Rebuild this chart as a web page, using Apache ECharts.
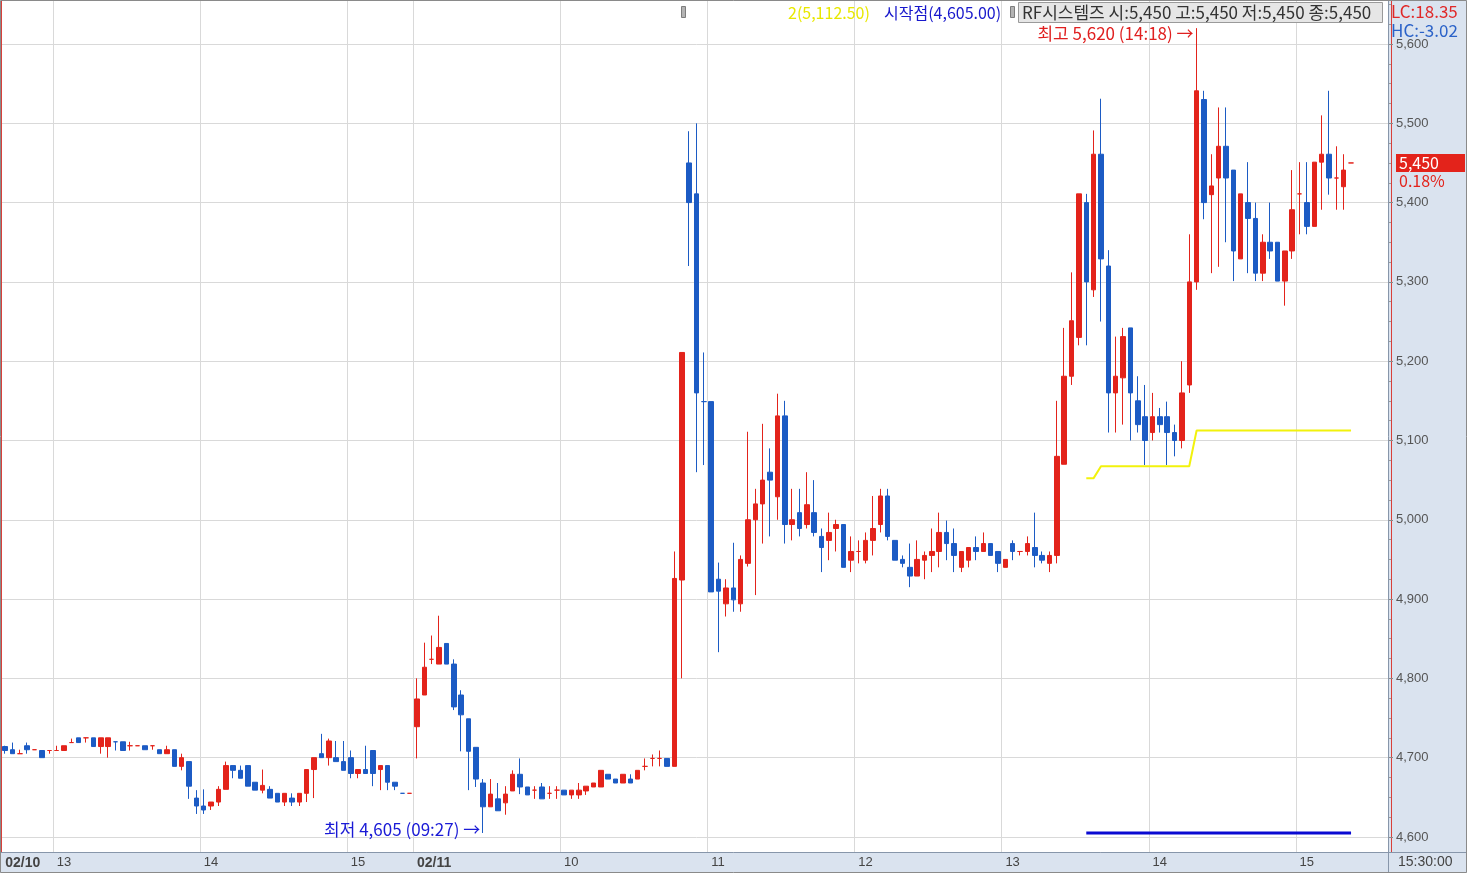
<!DOCTYPE html>
<html><head><meta charset="utf-8">
<script src="https://cdn.jsdelivr.net/npm/echarts@6/dist/echarts.min.js"></script>
<style>html,body{margin:0;padding:0;background:#fff}#c{width:1467px;height:873px}</style>
</head><body><div id="c"></div>
<script>
// ---- time slots (3-minute candles) ----
function slots(day, start, count) {
  const out = []; let [h, m] = start.split(':').map(Number);
  for (let i = 0; i < count; i++) {
    out.push(day + ' ' + String(h).padStart(2, '0') + ':' + String(m).padStart(2, '0'));
    m += 3; if (m >= 60) { m -= 60; h++; }
  }
  return out;
}
const day1Times = slots('02/10', '12:39', 56);
const day2Times = slots('02/11', '09:00', 128);
const padTimes = ['pad1', 'pad2', 'pad3', 'pad4', 'pad5'];
const categories = day1Times.concat(day2Times, padTimes);

// ---- OHLC values: [open, close, low, high] ----
const day1Ohlc = [
[4714,4709,4705,4715],[4710,4705,4705,4719],[4705,4705,4705,4710],[4715,4710,4705,4719],[4710,4710,4710,4710],
[4709,4700,4700,4709],[4709,4709,4705,4709],[4709,4709,4709,4715],[4709,4715,4709,4715],[4719,4719,4719,4724],
[4725,4719,4719,4725],[4725,4725,4719,4725],[4725,4714,4714,4725],[4714,4725,4705,4725],[4714,4725,4700,4725],
[4720,4720,4709,4720],[4720,4709,4709,4720],[4715,4715,4709,4720],[4715,4715,4715,4715],[4715,4710,4710,4715],
[4715,4715,4710,4715],[4710,4705,4705,4710],[4705,4710,4705,4715],[4710,4689,4689,4710],[4689,4700,4684,4705],
[4695,4664,4648,4695],[4649,4639,4629,4659],[4639,4634,4629,4660],[4639,4644,4634,4644],[4644,4660,4639,4664],
[4660,4690,4660,4695],[4690,4684,4674,4690],[4684,4674,4674,4690],[4690,4664,4664,4690],[4669,4659,4659,4669],
[4659,4665,4655,4685],[4660,4649,4649,4664],[4655,4644,4644,4655],[4644,4655,4639,4655],[4649,4644,4639,4655],
[4644,4655,4639,4655],[4655,4685,4644,4685],[4685,4700,4649,4700],[4705,4700,4700,4730],[4700,4721,4690,4724],
[4700,4695,4695,4721],[4695,4684,4684,4721],[4700,4680,4674,4709],[4680,4685,4674,4685],[4685,4680,4680,4715],
[4709,4680,4664,4709],[4685,4690,4659,4690],[4690,4669,4659,4690],[4669,4664,4659,4669],[4655,4655,4655,4655],
[4655,4655,4655,4655]
];
const day2Ohlc = [
[4739,4774,4699,4800],[4779,4814,4779,4845],[4824,4824,4818,4854],[4818,4839,4818,4879],[4844,4818,4818,4844],
[4818,4764,4760,4824],[4779,4754,4708,4785],[4749,4708,4659,4749],[4713,4673,4663,4713],[4668,4638,4605,4673],
[4638,4654,4638,4673],[4648,4633,4633,4668],[4643,4654,4628,4664],[4658,4679,4658,4684],[4679,4663,4654,4699],
[4663,4653,4653,4663],[4659,4659,4648,4664],[4663,4648,4648,4668],[4655,4655,4648,4664],[4659,4659,4648,4664],
[4659,4653,4653,4659],[4653,4659,4648,4659],[4653,4659,4648,4668],[4658,4664,4653,4664],[4663,4668,4663,4668],
[4663,4684,4663,4684],[4679,4673,4673,4679],[4673,4668,4668,4673],[4668,4679,4668,4679],[4673,4668,4668,4679],
[4673,4684,4673,4684],[4689,4689,4684,4699],[4699,4699,4689,4704],[4699,4699,4689,4709],[4699,4689,4689,4699],
[4689,4926,4689,4960],[4924,5211,4800,5211],[5450,5400,5320,5490],[5411,5160,5060,5500],[5149,5149,5069,5211],
[5149,4909,4909,5149],[4925,4910,4833,4946],[4894,4914,4878,4925],[4914,4899,4884,4971],[4894,4950,4884,4955],
[4945,5000,4941,5111],[5000,5020,4905,5039],[5020,5050,4970,5121],[5060,5050,4979,5090],[5029,5131,5000,5159],
[5131,4994,4970,5150],[4994,5000,4974,5039],[5009,4989,4979,5039],[4994,5019,4989,5060],[5009,4984,4979,5050],
[4979,4965,4934,4989],[4974,4984,4949,5009],[4989,4994,4960,5000],[4994,4940,4940,4994],[4949,4960,4934,4979],
[4960,4960,4945,4974],[4949,4974,4945,4984],[4974,4989,4955,5030],[4994,5030,4984,5039],[5030,4979,4974,5039],
[4974,4949,4949,4974],[4950,4945,4940,4955],[4940,4929,4915,4970],[4929,4950,4929,4974],[4949,4955,4925,4960],
[4955,4960,4934,4989],[4960,4984,4940,5009],[4984,4970,4949,4999],[4970,4955,4934,4989],[4940,4960,4934,4960],
[4949,4965,4940,4965],[4965,4960,4949,4979],[4960,4970,4960,4984],[4970,4955,4955,4970],[4960,4945,4934,4960],
[4940,4950,4940,4950],[4970,4960,4949,4974],[4960,4960,4955,4960],[4960,4970,4955,4979],[4965,4955,4940,5009],
[4955,4949,4945,4960],[4945,4955,4934,4960],[4955,5080,4945,5150],[5070,5181,5070,5242],[5181,5251,5170,5312],
[5230,5411,5220,5411],[5400,5300,5220,5411],[5290,5461,5281,5491],[5461,5329,5250,5531],[5320,5160,5110,5340],
[5160,5181,5110,5231],[5179,5231,5120,5242],[5242,5160,5100,5242],[5150,5120,5110,5181],[5130,5100,5069,5170],
[5110,5130,5100,5160],[5130,5120,5110,5141],[5130,5110,5069,5149],[5110,5100,5080,5120],[5100,5160,5090,5200],
[5170,5300,5160,5360],[5300,5541,5290,5620],[5530,5400,5379,5541],[5410,5421,5311,5461],[5431,5471,5319,5520],
[5471,5431,5350,5520],[5441,5339,5301,5441],[5329,5411,5329,5411],[5400,5380,5311,5451],[5380,5311,5301,5400],
[5311,5350,5301,5360],[5350,5339,5329,5400],[5350,5301,5301,5350],[5301,5339,5270,5339],[5339,5391,5329,5441],
[5411,5411,5360,5451],[5400,5370,5360,5451],[5370,5451,5370,5451],[5451,5461,5391,5510],[5461,5431,5410,5541],
[5431,5431,5391,5471],[5420,5441,5391,5461],[5450,5450,5450,5450]
];

// ---- indicator lines ----
const line2Points = [['02/11 13:33',5052.5],['02/11 13:36',5052.5],['02/11 13:39',5067.5],['02/11 14:15',5067.5],['02/11 14:18',5112.5],['02/11 15:21',5112.5]];
const startPoints = [['02/11 13:33',4605],['02/11 15:21',4605]];

// ---- axis labels ----
const xTickLabels = [['02/10 12:39','02/10'],['02/10 13:00','13'],['02/10 14:00','14'],['02/10 15:00','15'],
  ['02/11 09:00','02/11'],['02/11 10:00','10'],['02/11 11:00','11'],['02/11 12:00','12'],['02/11 13:00','13'],
  ['02/11 14:00','14'],['02/11 15:00','15']];
const dayBreak = '02/11 09:00';
const labelMap = new Map(xTickLabels);
const hourLines = new Set(xTickLabels.slice(1).map(d => d[0]));

const RED = '#e3231b', BLUE = '#1c5bc4';
const chart = echarts.init(document.getElementById('c'));
const ohlc = day1Ohlc.concat(day2Ohlc);

chart.setOption({
  animation: false,
  backgroundColor: '#ffffff',
  grid: { left: 1.5, top: 0, width: 1390, bottom: 21 },
  xAxis: [{
    type: 'category', data: categories, boundaryGap: true,
    axisLine: { show: false }, axisTick: { show: false },
    axisLabel: {
      interval: (i, v) => labelMap.has(v), align: 'left', margin: 4,
      fontSize: 13, color: '#444', fontFamily: 'Liberation Sans',
      formatter: v => { const t = labelMap.get(v) || ''; return t.includes('/') ? '{b|' + t + '}' : t; },
      rich: { b: { fontWeight: 'bold', fontSize: 14, color: '#444', fontFamily: 'Liberation Sans' } }
    },
    splitLine: { show: true, interval: (i, v) => hourLines.has(v), lineStyle: { color: '#d9d9d9', width: 1 } }
  }, {
    type: 'category', data: categories, boundaryGap: true, position: 'bottom',
    axisLine: { show: false }, axisTick: { show: false }, axisLabel: { show: false },
    splitLine: { show: true, interval: (i, v) => v === dayBreak, lineStyle: { color: '#d8403a', width: 1 } }
  }],
  yAxis: {
    type: 'value', position: 'right', offset: -3.5, min: 4581, max: 5655.5, splitNumber: 10,
    axisLine: { show: false },
    axisTick: { show: true, length: 5, lineStyle: { color: '#8a8a8a' } },
    minorTick: { show: true, splitNumber: 4, length: 3, lineStyle: { color: '#9a9a9a' } },
    axisLabel: {
      margin: 8, fontSize: 13, color: '#555', fontFamily: 'Liberation Sans',
      formatter: v => { const r = Math.round(v); return (Math.abs(v - r) < 1e-6 && r % 100 === 0) ? r.toLocaleString('en-US') : ''; }
    },
    splitLine: { show: true, lineStyle: { color: '#d9d9d9', width: 1 } }
  },
  series: [{
    type: 'candlestick', data: ohlc, barWidth: 5,
    itemStyle: { color: RED, color0: BLUE, borderColor: RED, borderColor0: BLUE, borderWidth: 1 }
  }, {
    type: 'line', data: line2Points, symbol: 'none', z: 4,
    lineStyle: { color: '#f2f20c', width: 2 }
  }, {
    type: 'line', data: startPoints, symbol: 'none', z: 4,
    lineStyle: { color: '#0a0ad2', width: 3 }
  }]
});

const px = (c, v) => chart.convertToPixel({ seriesIndex: 0 }, [categories.indexOf(c), v]);
const lowP = px('02/11 09:27', 4605);
const highP = px('02/11 14:18', 5620);
const lastP = px('02/11 15:21', 5450);
const KR = '"Noto Sans CJK KR", "Liberation Sans", sans-serif';
const txt = (x, y, text, fill, size, extra) => Object.assign({
  type: 'text', x, y, z: 100,
  style: Object.assign({ text, fill, font: size + 'px ' + KR, verticalAlign: 'middle' }, extra || {})
});

chart.setOption({
  graphic: [
    { type: 'rect', z: -1, shape: { x: 1388, y: 0, width: 79, height: 873 }, style: { fill: '#dae3ef' } },
    { type: 'rect', z: -1, shape: { x: 0, y: 852, width: 1388, height: 21 }, style: { fill: '#dae3ef' } },
    { type: 'line', z: 50, shape: { x1: 1388.5, y1: 0, x2: 1388.5, y2: 873 }, style: { stroke: '#8796aa', lineWidth: 1 } },
    { type: 'line', z: 50, shape: { x1: 0, y1: 852.5, x2: 1467, y2: 852.5 }, style: { stroke: '#8796aa', lineWidth: 1 } },
    { type: 'rect', z: 50, shape: { x: 0.5, y: 0.5, width: 1466, height: 872 }, style: { fill: 'none', stroke: '#8a8a8a', lineWidth: 1 } },
    // header legend
    { type: 'rect', z: 60, shape: { x: 681.5, y: 6.5, width: 4, height: 11 }, style: { fill: '#b4b4b4', stroke: '#7d7d7d' } },
    txt(788, 13, '2(5,112.50)', '#e8e800', 16),
    txt(884, 13, '시작점(4,605.00)', '#1818cc', 16),
    { type: 'rect', z: 60, shape: { x: 1010.5, y: 6.5, width: 4, height: 11 }, style: { fill: '#b4b4b4', stroke: '#7d7d7d' } },
    { type: 'rect', z: 60, shape: { x: 1018.5, y: 2.5, width: 364, height: 20 }, style: { fill: '#e6e6e6', stroke: '#9a9a9a' } },
    txt(1022, 13, 'RF시스템즈 시:5,450 고:5,450 저:5,450 종:5,450', '#333333', 17),
    txt(1391, 12, 'LC:18.35', '#e02828', 17),
    txt(1391, 31, 'HC:-3.02', '#2a62c8', 17),
    // annotations
    txt(lowP[0] - 3, lowP[1] - 3, '최저 4,605 (09:27) →', '#1a1ad6', 17, { align: 'right' }),
    txt(highP[0] - 3, highP[1] + 5, '최고 5,620 (14:18) →', '#e02020', 17, { align: 'right' }),
    // last price marker
    { type: 'rect', z: 60, shape: { x: 1396, y: lastP[1] - 9, width: 69, height: 18 }, style: { fill: RED } },
    txt(1399, lastP[1], '5,450', '#ffffff', 16),
    txt(1399, lastP[1] + 18, '0.18%', RED, 16),
    txt(1398, 862, '15:30:00', '#444444', 14, { font: '14px "Liberation Sans"' })
  ]
});
</script>
</body></html>
